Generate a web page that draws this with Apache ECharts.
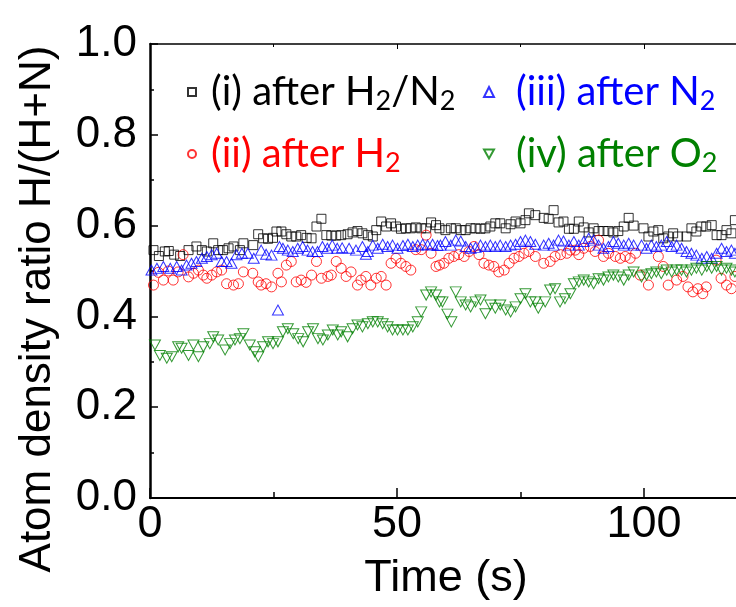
<!DOCTYPE html>
<html><head><meta charset="utf-8">
<script src="https://cdn.jsdelivr.net/npm/echarts@6/dist/echarts.min.js"></script>
<style>html,body{margin:0;padding:0;background:#fff;overflow:hidden;width:736px;height:607px}#c{width:950px;height:607px}</style>
</head><body><div id="c"></div>
<script>
// ---------- data ----------
const seriesNames = ['(i) after H2/N2', '(ii) after H2', '(iii) after N2', '(iv) after O2'];
const legendParts = [
  ['(i) after H', '2', '/N', '2'],
  ['(ii) after H', '2'],
  ['(iii) after N', '2'],
  ['(iv) after O', '2']
];
const xLabels = [0, 50, 100];
const yLabels = [0, 0.2, 0.4, 0.6, 0.8, 1.0];

const blackT = [0.7,1.8,3.0,3.8,4.9,6.1,7.8,9.4,10.5,11.5,12.8,13.8,14.8,15.9,16.9,18.2,18.9,
20.9,21.9,22.9,23.9,24.9,25.6,26.6,27.6,28.6,29.6,30.6,31.7,32.7,33.7,34.7,35.7,36.7,37.7,38.7,
40.0,41.0,42.0,43.0,44.1,45.1,45.8,46.8,47.8,48.8,49.8,50.8,51.8,52.8,53.8,54.9,55.9,56.9,57.9,58.6,
59.8,60.9,61.9,62.9,63.9,64.9,65.9,66.9,67.9,68.9,69.9,70.9,72.0,73.0,74.0,75.0,76.0,76.7,78.0,
79.7,80.7,81.7,82.7,83.7,84.8,85.8,86.8,87.8,88.8,89.8,90.8,91.8,92.8,93.8,94.8,95.9,96.9,97.9,
99.9,100.9,101.9,102.9,103.9,104.9,105.9,106.9,108.6,109.6,110.6,111.6,112.6,113.7,114.7,115.7,116.7,117.7,118.4];
const blackV = [.546,.533,.543,.544,.536,.533,.546,.554,.546,.543,.561,.546,.546,.550,.554,.546,.561,
.557,.581,.572,.571,.573,.587,.587,.581,.576,.576,.579,.573,.572,.598,.615,.579,.578,.578,.579,
.581,.585,.588,.583,.579,.576,.590,.609,.598,.605,.598,.593,.594,.594,.596,.594,.594,.607,.601,.594,
.590,.594,.594,.590,.590,.594,.594,.593,.594,.598,.605,.605,.594,.603,.609,.605,.612,.627,.623,
.617,.615,.634,.607,.609,.593,.593,.609,.596,.585,.594,.588,.588,.588,.585,.588,.598,.617,.600,
.594,.576,.587,.590,.572,.576,.583,.576,.576,.594,.587,.598,.598,.601,.579,.579,.590,.583,.612];

const redT = [0.7,1.7,2.7,3.7,4.7,5.7,6.7,7.8,8.8,9.8,10.8,11.5,12.5,13.5,14.5,15.5,16.9,17.9,18.9,
20.8,21.9,22.5,23.5,24.6,25.9,26.6,27.6,28.6,29.6,30.6,31.6,32.7,33.7,34.7,36.0,36.7,37.7,38.7,
39.7,40.7,42.0,42.7,43.7,44.7,45.8,46.8,47.8,48.8,49.8,50.8,51.8,52.8,53.8,54.9,55.9,56.9,57.9,58.6,
59.5,60.5,61.5,62.5,63.6,64.6,65.6,66.6,67.6,68.6,69.6,70.6,71.7,72.7,73.7,74.7,75.7,76.7,78.0,
79.7,81.0,82.0,83.1,84.4,85.1,86.1,86.8,87.8,89.1,90.1,90.8,91.8,92.8,94.2,95.2,96.2,97.2,98.3,
99.2,100.9,102.9,103.9,104.9,106.6,107.9,108.9,109.9,110.9,111.9,112.6,114.6,115.6,116.7,117.7,118.4];
const redV = [.469,.497,.480,.500,.480,.498,.536,.487,.495,.502,.491,.484,.491,.498,.502,.472,.469,.472,.498,
.495,.476,.469,.472,.465,.495,.476,.513,.521,.476,.480,.475,.491,.521,.484,.488,.491,.521,.506,
.488,.498,.469,.480,.488,.469,.484,.488,.469,.517,.528,.517,.510,.502,.547,.547,.579,.539,.510,.513,
.517,.528,.532,.536,.532,.543,.554,.536,.517,.513,.510,.498,.502,.517,.528,.532,.539,.543,.532,
.517,.521,.532,.536,.539,.546,.546,.536,.550,.554,.543,.568,.532,.539,.532,.528,.532,.528,.539,
.491,.469,.532,.510,.469,.480,.488,.465,.454,.461,.450,.465,.524,.484,.469,.461,.488];

const blueT = [0.3,1.4,2.7,4.1,5.4,6.4,7.4,8.4,9.4,10.5,11.5,12.5,13.5,14.5,15.5,16.5,17.5,18.6,
19.8,21.0,22.5,23.5,24.6,25.9,26.2,26.9,27.9,28.9,29.9,30.9,31.9,32.9,33.9,34.9,35.9,36.9,37.9,38.9,
40.3,41.7,43.0,43.7,44.1,45.1,46.1,47.1,48.1,49.1,50.1,51.2,52.2,53.2,54.2,55.2,56.2,57.2,58.2,
58.8,59.8,60.9,61.9,62.9,63.9,64.9,65.9,66.9,67.9,68.9,69.9,70.9,72.0,73.0,74.0,75.0,76.0,77.0,78.0,
79.7,80.7,81.7,82.7,83.7,84.8,85.8,86.8,87.8,88.8,89.8,90.8,91.8,92.8,93.8,94.8,95.9,96.9,97.9,
99.5,100.5,101.5,102.5,103.5,104.6,105.6,106.6,107.6,108.6,109.6,110.6,111.7,112.7,113.7,114.7,115.7,116.7,117.7,118.4];
const blueV = [.502,.506,.510,.506,.510,.502,.513,.517,.521,.528,.532,.536,.539,.521,.521,.517,.536,.539,
.539,.528,.546,.537,.535,.414,.554,.550,.546,.543,.550,.554,.546,.543,.543,.554,.550,.557,.550,.551,
.550,.546,.554,.537,.543,.557,.550,.559,.554,.557,.550,.556,.559,.554,.557,.559,.557,.559,.556,
.557,.565,.557,.568,.566,.554,.550,.552,.557,.554,.557,.554,.557,.554,.557,.559,.565,.568,.565,.559,
.557,.561,.557,.568,.566,.557,.565,.557,.565,.572,.568,.557,.550,.554,.565,.561,.557,.561,.557,
.557,.550,.557,.554,.557,.565,.554,.557,.550,.543,.539,.535,.528,.532,.528,.539,.550,.543,.546,.539];

const greenT = [1.0,2.0,3.4,4.4,5.7,6.4,7.8,8.8,9.8,10.8,12.1,12.8,13.8,15.2,16.2,17.2,18.2,18.9,
20.2,21.2,21.9,22.9,23.9,24.9,25.9,26.9,27.9,29.0,30.0,31.0,32.0,33.0,34.0,35.0,36.0,37.0,38.0,38.7,
40.0,41.0,42.0,43.0,44.1,45.1,46.1,47.1,48.1,49.1,50.1,51.2,52.2,53.2,54.2,54.9,55.9,56.9,57.9,58.6,
59.2,60.2,61.0,61.9,62.9,63.9,64.9,65.9,66.9,67.9,68.9,69.9,70.9,72.0,73.0,74.0,75.0,76.0,77.0,78.0,
78.6,80.0,81.0,82.0,83.0,84.0,85.1,85.8,86.8,87.8,88.8,89.8,90.8,91.8,92.8,93.8,94.8,95.9,96.9,97.9,
99.5,100.5,101.5,102.5,103.5,104.6,105.6,106.6,107.6,108.6,109.6,110.6,111.7,112.7,113.7,114.7,115.7,116.7,117.7,118.4];
const greenV = [.337,.314,.308,.311,.333,.330,.314,.337,.311,.333,.340,.355,.348,.326,.340,.348,.351,.362,
.337,.322,.311,.333,.344,.340,.344,.366,.373,.362,.351,.344,.366,.373,.351,.348,.359,.370,.359,.366,
.355,.373,.381,.377,.384,.388,.388,.384,.377,.370,.370,.370,.370,.377,.388,.410,.447,.454,.447,.432,
.432,.405,.388,.454,.432,.425,.421,.432,.436,.406,.425,.418,.425,.414,.410,.421,.439,.450,.432,.432,
.418,.432,.458,.461,.432,.439,.450,.472,.476,.480,.476,.472,.483,.480,.487,.491,.487,.480,.491,.498,
.487,.491,.494,.498,.494,.502,.498,.502,.502,.498,.502,.506,.502,.510,.506,.510,.502,.506,.502,.498];

// ---------- chart ----------
const FONT = 'Liberation Sans';
const LFONT = 'Lato';
const colors = ['#000000', '#ff0000', '#0000ff', '#008000'];
const keys = ['k', 'r', 'b', 'g'];
const textGap = [10, 10, 17, 17];
const symbols = ['rect', 'circle', 'triangle', 'path://M0,0 L10,0 L5,9 Z'];
const sizes = [9, 10, [11, 10], [11, 10]];
const pairs = (t, v) => t.map((x, i) => [x, v[i]]);
const allData = [pairs(blackT, blackV), pairs(redT, redV), pairs(blueT, blueV), pairs(greenT, greenV)];

const rich = {};
keys.forEach((k, i) => {
  rich[k] = {color: colors[i], fontFamily: LFONT, fontSize: 40, lineHeight: 46, verticalAlign: 'middle'};
  rich[k + '0'] = {color: colors[i], fontFamily: LFONT, fontSize: 40, lineHeight: 46, verticalAlign: 'middle', padding: [0, 0, 0, textGap[i]]};
  rich[k + 's'] = {color: colors[i], fontFamily: LFONT, fontSize: 27, lineHeight: 20, verticalAlign: 'bottom'};
});
const legendText = {};
seriesNames.forEach((n, i) => {
  legendText[n] = legendParts[i].map((p, j) => '{' + keys[i] + (j % 2 ? 's' : (j === 0 ? '0' : '')) + '|' + p + '}').join('');
});

const legendBase = {
  orient: 'vertical', top: 67, itemGap: 19, selectedMode: false,
  formatter: n => legendText[n],
  textStyle: {rich: rich, fontFamily: LFONT, fontSize: 40}
};

const chart = echarts.init(document.getElementById('c'), null, {renderer: 'canvas'});
chart.setOption({
  animation: false,
  backgroundColor: '#ffffff',
  grid: {left: 150, top: 44, right: 59, bottom: 109, containLabel: false},
  legend: [
    Object.assign({}, legendBase, {data: [seriesNames[0], seriesNames[1]], left: 182, itemWidth: 8, itemHeight: 8}),
    Object.assign({}, legendBase, {data: [seriesNames[2], seriesNames[3]], left: 478, itemWidth: 10, itemHeight: 10})
  ],
  xAxis: [{
    type: 'value', min: 0, max: 150, interval: 50, position: 'bottom',
    axisLine: {show: true, onZero: false, lineStyle: {color: '#000', width: 2}},
    axisTick: {show: true, inside: true, length: 10, lineStyle: {color: '#000', width: 1.5}},
    minorTick: {show: true, splitNumber: 2, length: 6, lineStyle: {color: '#000', width: 1.5}},
    splitLine: {show: false}, minorSplitLine: {show: false},
    axisLabel: {color: '#000', fontFamily: FONT, fontSize: 45, margin: 4,
      formatter: v => xLabels.indexOf(v) >= 0 ? String(v) : ''},
    name: 'Time (s)', nameLocation: 'middle', nameGap: 58,
    nameTextStyle: {color: '#000', fontFamily: FONT, fontSize: 45, padding: [0, 149, 0, 0]}
  }, {
    type: 'value', min: 0, max: 150, interval: 50, position: 'top',
    axisLine: {show: true, onZero: false, lineStyle: {color: '#000', width: 1.5}},
    axisTick: {show: true, inside: true, length: 5, lineStyle: {color: '#000', width: 1}},
    minorTick: {show: true, splitNumber: 2, length: 3, lineStyle: {color: '#000', width: 1}},
    splitLine: {show: false}, axisLabel: {show: false}
  }],
  yAxis: {
    type: 'value', min: 0, max: 1, interval: 0.2,
    axisLine: {show: true, onZero: false, lineStyle: {color: '#000', width: 2.5}},
    axisTick: {show: true, inside: true, length: 8, lineStyle: {color: '#000', width: 1.5}},
    minorTick: {show: true, splitNumber: 2, length: 4, lineStyle: {color: '#000', width: 1.5}},
    splitLine: {show: false},
    axisLabel: {color: '#000', fontFamily: FONT, fontSize: 44, margin: 13,
      formatter: v => yLabels.some(y => Math.abs(y - v) < 1e-9) ? v.toFixed(1) : ''},
    name: 'Atom density ratio H/(H+N)', nameLocation: 'middle', nameGap: 90,
    nameTextStyle: {color: '#000', fontFamily: FONT, fontSize: 44, padding: [0, 76, 0, 0]}
  },
  series: seriesNames.map((n, i) => ({
    name: n, type: 'scatter', data: allData[i],
    symbol: symbols[i], symbolSize: sizes[i],
    itemStyle: {color: 'rgba(255,255,255,0)', borderColor: colors[i], borderWidth: 1},
    emphasis: {disabled: true}, silent: true
  }))
});
</script></body></html>
